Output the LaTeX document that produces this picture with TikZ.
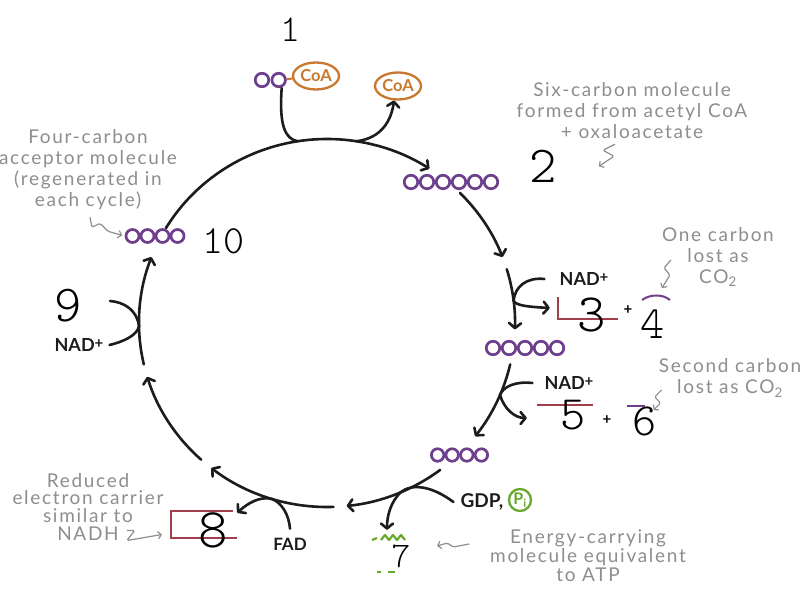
\documentclass[tikz,border=0pt]{standalone}
\usepackage{fontspec}
\usepackage{tikz}
\usetikzlibrary{arrows.meta,positioning,shapes.geometric,calc}
\newfontfamily\handfont{Lato}[LetterSpace=9]
\newfontfamily\markfont{Lato}
\newfontfamily\numfont{lmmonolt10-regular}[Extension=.otf]
\definecolor{ringink}{HTML}{1C1C1C}
\definecolor{carbpurple}{HTML}{6E3F8C}
\definecolor{coaorange}{HTML}{C8782F}
\definecolor{pigreen}{HTML}{68A82C}
\definecolor{boxred}{HTML}{A0404F}
\definecolor{notegray}{HTML}{8E8E8E}
\newcommand{\nadplus}{NAD\raisebox{3pt}{\fontsize{15}{15}\selectfont +}}
\tikzset{
  ringarc/.style={draw=ringink,line width=2.6pt,line cap=round,
                  -{Straight Barb[length=5pt,width=12pt,round]}},
  branch/.style={draw=ringink,line width=2.6pt,line cap=round},
  branchto/.style={branch,-{Straight Barb[length=5pt,width=12pt,round]}},
  carbon/.style={circle,draw=carbpurple,fill=white,line width=2.7pt,
                 minimum size=13.5pt,inner sep=0pt},
  coabox/.style={ellipse,draw=coaorange,line width=2.3pt,text=coaorange,
                 font=\markfont\bfseries\fontsize{16.5}{16.5}\selectfont,
                 minimum width=46pt,minimum height=27pt,inner sep=0pt},
  cofactor/.style={font=\markfont\bfseries\fontsize{18}{18}\selectfont,
                   text=ringink,inner sep=1pt},
  numlabel/.style={font=\numfont\fontsize{48}{48}\selectfont,inner sep=0pt},
  notetext/.style={font=\handfont\fontsize{19}{21}\selectfont,text=notegray,
                   align=center,inner sep=0pt},
  squig/.style={draw=notegray,line width=1.2pt,rounded corners=1.5pt,
                -{Straight Barb[length=3pt,width=7pt,round]}},
  squigrev/.style={draw=notegray,line width=1.2pt,rounded corners=1.5pt,
                   {Straight Barb[length=3pt,width=7pt,round]}-},
  slot/.style={inner sep=0pt},
  redline/.style={draw=boxred,line width=2.5pt},
  plusmark/.style={font=\markfont\bfseries\fontsize{15}{15}\selectfont,inner sep=0pt}
}

\begin{document}
\begin{tikzpicture}[x=1pt,y=-1pt]
  \fill[white] (0,0) rectangle (807,602);
  \useasboundingbox (0,0) rectangle (807,602);
  \coordinate (cen) at (327,323);

  % the cycle, broken at every intermediate
  \foreach \a/\b in {211/303,315/339,343/362,13/38,53/84,88/128,132/163,167/201}
    \draw[ringarc] ([shift={(cen)}]\a:188 and 184) arc[start angle=\a,end angle=\b,x radius=188,y radius=184];

  \coordinate (jA) at ([shift={(cen)}]261:188 and 184);
  \coordinate (jC) at ([shift={(cen)}]279:188 and 184);
  \coordinate (j3) at ([shift={(cen)}]353:188 and 184);
  \coordinate (j5) at ([shift={(cen)}]23:188 and 184);
  \coordinate (jG) at ([shift={(cen)}]67:188 and 184);
  \coordinate (jF) at ([shift={(cen)}]107:188 and 184);
  \coordinate (j9) at ([shift={(cen)}]179:188 and 184);
  \coordinate (c9) at (110,301);

  % acetyl CoA
  \node[carbon] (ac1) at (262,80) {};
  \node[carbon,right=0.5pt of ac1] (ac2) {};
  \node[coabox] (coa1) at (316,76) {CoA};
  \draw[coaorange,line width=2pt] (ac2) -- (coa1);
  \node[coabox] (coa2) at (398,86) {CoA};

  % carbon skeletons
  \foreach \i in {1,...,6} \node[carbon] (six\i) at ({395+16*\i},182) {};
  \foreach \i in {1,...,5} \node[carbon] (five\i) at ({477+16*\i},348) {};
  \foreach \i in {1,...,4} \node[carbon,minimum size=12.5pt] (fourb\i) at ({423+14.6*\i},455) {};
  \foreach \i in {1,...,4} \node[carbon,minimum size=13pt] (fourl\i) at ({117.5+15*\i},236) {};

  % blanks and numbers
  \node[numlabel,font=\numfont\fontsize{38}{38}\selectfont] (n1) at (290,30) {1};
  \node[numlabel,font=\numfont\fontsize{52}{52}\selectfont] (n2) at (543,166) {2};

  \node[slot,minimum width=60pt,minimum height=22pt] (box3) at (588,308) {};
  \draw[redline] (box3.north west) -- (box3.south west) -- (box3.south east);
  \node[numlabel,font=\numfont\fontsize{54}{54}\selectfont] (n3) at (592,315) {3};
  \node[plusmark] (plus3) at (628,310) {+};
  \draw[carbpurple,line width=2pt] (642,300) .. controls (650,294) and (663,294) .. (670,300);
  \node[numlabel,font=\numfont\fontsize{46}{46}\selectfont] (n4) at (653,324) {4};

  \node[slot,minimum width=56pt,minimum height=26pt] (box5) at (565,418) {};
  \draw[redline] (box5.north west) -- (box5.north east);
  \node[numlabel] (n5) at (573,415) {5};
  \node[plusmark] (plus5) at (607,420) {+};
  \draw[carbpurple,line width=2pt] (627,406) -- (645,406);
  \node[numlabel,font=\numfont\fontsize{46}{46}\selectfont] (n6) at (645,421) {6};

  \node[slot,minimum width=44pt,minimum height=36pt] (atp) at (392,555) {};
  \draw[pigreen,line width=2.2pt,line join=round] (372,540) -- (377,538)
    (381,540) -- (385,535) -- (389,540) -- (393,535) -- (397,540) -- (401,535) -- (405,540);
  \draw[pigreen,line width=2.2pt] (377,572) -- (381,572) (388,572) -- (395,572);
  \node[numlabel,font=\numfont\fontsize{36}{36}\selectfont] (n7) at (401,556) {7};

  \node[slot,minimum width=62pt,minimum height=27pt] (box8) at (202,524.5) {};
  \draw[redline] (box8.north east) -- (box8.north west) -- (box8.south west) -- ([xshift=4pt]box8.south east);
  \node[numlabel,font=\numfont\fontsize{56}{56}\selectfont] (n8) at (213,530) {8};

  \node[numlabel,font=\numfont\fontsize{52}{52}\selectfont] (n9) at (68,306) {9};
  \node[numlabel,font=\numfont\fontsize{40}{40}\selectfont] (n10) at (223,241) {10};

  % cofactors
  \node[cofactor] (nad3) at (584,279) {\nadplus};
  \node[cofactor] (nad5) at (569,383) {\nadplus};
  \node[cofactor] (nad9) at (79,345) {\nadplus};
  \node[cofactor,font=\markfont\bfseries\fontsize{19}{19}\selectfont] (gdp) at (482,502) {GDP,};
  \node[circle,draw=pigreen,line width=2.3pt,text=pigreen,inner sep=0pt,minimum size=22pt,
        font=\markfont\bfseries\fontsize{16}{16}\selectfont] (pi) at (520,500) {P\textsubscript{i}};
  \node[cofactor,font=\markfont\bfseries\fontsize{17}{17}\selectfont] (fad) at (290,544) {FAD};

  % side reactions
  \draw[branch] ([xshift=3pt]ac2.south) .. controls (279,125) and (285,139) .. (jA);
  \draw[branchto] (jC) .. controls (375,139) and (390,128) .. (coa2.255);
  \draw[branchto] ([xshift=-14pt]nad3.west) .. controls (526,277) and (515,287) .. (j3)
    .. controls (515,306) and (532,307) .. ([xshift=-8pt]box3.west);
  \draw[branchto] ([xshift=-11pt]nad5.west) .. controls (515,381) and (503,387) .. (j5)
    .. controls (504,409) and (515,418) .. ([xshift=-10pt]box5.west);
  \draw[branch] ([xshift=-6pt]gdp.west) .. controls (432,486) and (412,483) .. (jG);
  \draw[branchto] (jG) .. controls (391,502) and (387,515) .. ([xshift=-5pt,yshift=7pt]atp.north);
  \draw[branch] ([yshift=8pt]fad.north) .. controls (289,515) and (282,503) .. (jF);
  \draw[branchto] (jF) .. controls (260,496) and (248,503) .. ([xshift=4pt,yshift=-2pt]box8.north east);
  \draw[branch] ([xshift=5pt]nad9.east) .. controls (122,342) and (137,336) .. (j9)
    .. controls (137,310) and (124,302) .. (c9);

  % notes
  \node[notetext] (sixnote) at (632,111) {Six-carbon molecule\\formed from acetyl CoA\\+ oxaloacetate};
  \draw[squig] ([xshift=-17pt,yshift=-5pt]sixnote.south) -- ++(-12,6) -- ++(11,6) -- ++(-15,10);
  \node[notetext] (onenote) at (718,257) {One carbon\\lost as\\CO\textsubscript{2}};
  \draw[squig] ([xshift=9pt,yshift=-3pt]onenote.west) -- ++(-7,8) -- ++(6,7) -- ++(-8,13);
  \node[notetext] (secnote) at (730,378) {Second carbon\\lost as CO\textsubscript{2}};
  \draw[squig] ([xshift=3pt,yshift=-12pt]secnote.west) -- ++(-7,7) -- ++(6,6) -- ++(-7,7);
  \node[notetext] (fournote) at (88,170) {Four-carbon\\acceptor molecule\\(regenerated in\\each cycle)};
  \draw[squig] ([xshift=2pt,yshift=-7pt]fournote.south) -- ++(2,10) -- ++(8,-4) -- ++(8,8) -- ++(14,4);
  \node[notetext,font=\handfont\fontsize{19}{18}\selectfont] (rednote) at (88,507) {Reduced\\electron carrier\\similar to\\NADH};
  \draw[squigrev] ([xshift=-9pt,yshift=-10pt]box8.west) -- ++(-23,4) -- ++(-12,2) -- ++(8,-10) -- ++(-8,0);
  \node[notetext,font=\handfont\fontsize{19}{19}\selectfont] (atpnote) at (588,556) {Energy-carrying\\molecule equivalent\\to ATP};
  \draw[squigrev] ([xshift=23pt,yshift=9pt]atp.east) -- ++(10,-3) -- ++(6,4) -- ++(16,-3);
\end{tikzpicture}
\end{document}
